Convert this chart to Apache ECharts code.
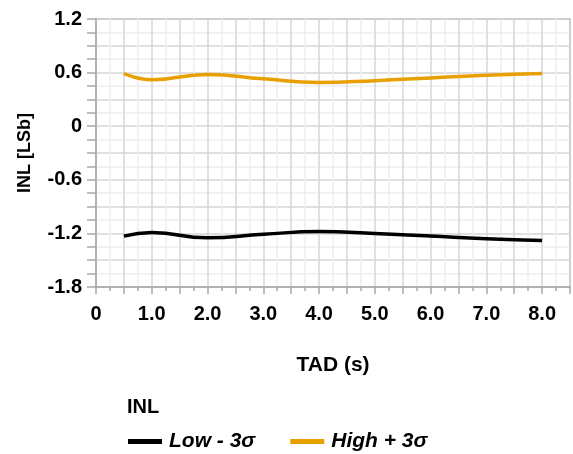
<!DOCTYPE html>
<html>
<head>
<meta charset="utf-8">
<script src="https://cdn.jsdelivr.net/npm/echarts@6/dist/echarts.min.js"></script>
<style>html,body{margin:0;padding:0;background:#fff}#c{width:573px;height:454px}</style>
</head>
<body>
<div id="c"></div>
<script>
var tadValues = [0.5, 1.0, 2.0, 3.0, 4.0, 5.0, 6.0, 7.0, 8.0];
var lowMinus3Sigma = [-1.23, -1.19, -1.25, -1.21, -1.18, -1.20, -1.23, -1.26, -1.28];
var highPlus3Sigma = [0.59, 0.52, 0.58, 0.53, 0.49, 0.51, 0.54, 0.57, 0.59];
var seriesNames = ['Low - 3σ', 'High + 3σ'];
var xTickLabels = ['0', '1.0', '2.0', '3.0', '4.0', '5.0', '6.0', '7.0', '8.0'];
var yTickLabels = ['-1.8', '-1.2', '-0.6', '0', '0.6', '1.2'];

function pairs(xs, ys) { return xs.map(function (x, i) { return [x, ys[i]]; }); }
var FONT = "'Liberation Sans', Arial, sans-serif";

var chart = echarts.init(document.getElementById('c'), null, {renderer: 'canvas'});
chart.setOption({
  animation: false,
  title: {
    text: 'INL', left: 122, top: 392,
    textStyle: {fontFamily: FONT, fontSize: 20, fontWeight: 'bold', color: '#000'}
  },
  legend: {
    left: 123, top: 426, icon: 'rect', itemWidth: 34, itemHeight: 5, itemGap: 35,
    data: seriesNames,
    textStyle: {fontFamily: FONT, fontSize: 21, fontWeight: 'bold', fontStyle: 'italic', color: '#000', padding: [0, 0, 0, 2]}
  },
  grid: {
    left: 96, top: 19, width: 481, height: 268, show: true,
    borderColor: '#a8a8a8', borderWidth: 1.5, backgroundColor: 'transparent'
  },
  xAxis: {
    type: 'value', min: 0, max: 8.5, interval: 0.5,
    name: 'TAD (s)', nameLocation: 'middle', nameGap: 68,
    nameTextStyle: {fontFamily: FONT, fontSize: 21, fontWeight: 'bold', color: '#000'},
    axisLine: {show: true, onZero: false, lineStyle: {color: '#a8a8a8', width: 1.5}},
    axisTick: {show: true, length: 7, lineStyle: {color: '#a8a8a8', width: 1.5}},
    minorTick: {show: true, splitNumber: 2, length: 4, lineStyle: {color: '#a8a8a8', width: 1.5}},
    splitLine: {show: true, lineStyle: {color: '#d6d6d6', width: 1.5}},
    minorSplitLine: {show: true, lineStyle: {color: '#eeeeee', width: 1.5}},
    axisLabel: {
      margin: 17, fontFamily: FONT, fontSize: 20, fontWeight: 'bold', color: '#000',
      formatter: function (v) {
        var r = Math.round(v);
        if (Math.abs(v - r) < 1e-6 && r >= 0 && r < xTickLabels.length) return xTickLabels[r];
        return '';
      }
    }
  },
  yAxis: {
    type: 'value', min: -1.8, max: 1.2, interval: 0.3,
    name: 'INL [LSb]', nameLocation: 'middle', nameGap: 62, nameRotate: 90,
    nameTextStyle: {fontFamily: FONT, fontSize: 18, fontWeight: 'bold', color: '#000'},
    axisLine: {show: true, onZero: false, lineStyle: {color: '#a8a8a8', width: 1.5}},
    axisTick: {show: true, length: 9, lineStyle: {color: '#a8a8a8', width: 1.5}},
    minorTick: {show: true, splitNumber: 2, length: 9, lineStyle: {color: '#a8a8a8', width: 1.5}},
    splitLine: {show: true, lineStyle: {color: '#d6d6d6', width: 1.5}},
    minorSplitLine: {show: true, lineStyle: {color: '#eeeeee', width: 1.5}},
    axisLabel: {
      margin: 14, fontFamily: FONT, fontSize: 20, fontWeight: 'bold', color: '#000',
      formatter: function (v) {
        var k = Math.round((v + 1.8) / 0.6);
        if (Math.abs((v + 1.8) / 0.6 - k) < 1e-6 && k >= 0 && k < yTickLabels.length) return yTickLabels[k];
        return '';
      }
    }
  },
  series: [
    {name: seriesNames[0], type: 'line', smooth: 0.5, showSymbol: false,
     data: pairs(tadValues, lowMinus3Sigma), color: '#000000', lineStyle: {width: 3.5, color: '#000000'}},
    {name: seriesNames[1], type: 'line', smooth: 0.5, showSymbol: false,
     data: pairs(tadValues, highPlus3Sigma), color: '#E8A000', lineStyle: {width: 3.5, color: '#E8A000'}}
  ]
});
</script>
</body>
</html>
